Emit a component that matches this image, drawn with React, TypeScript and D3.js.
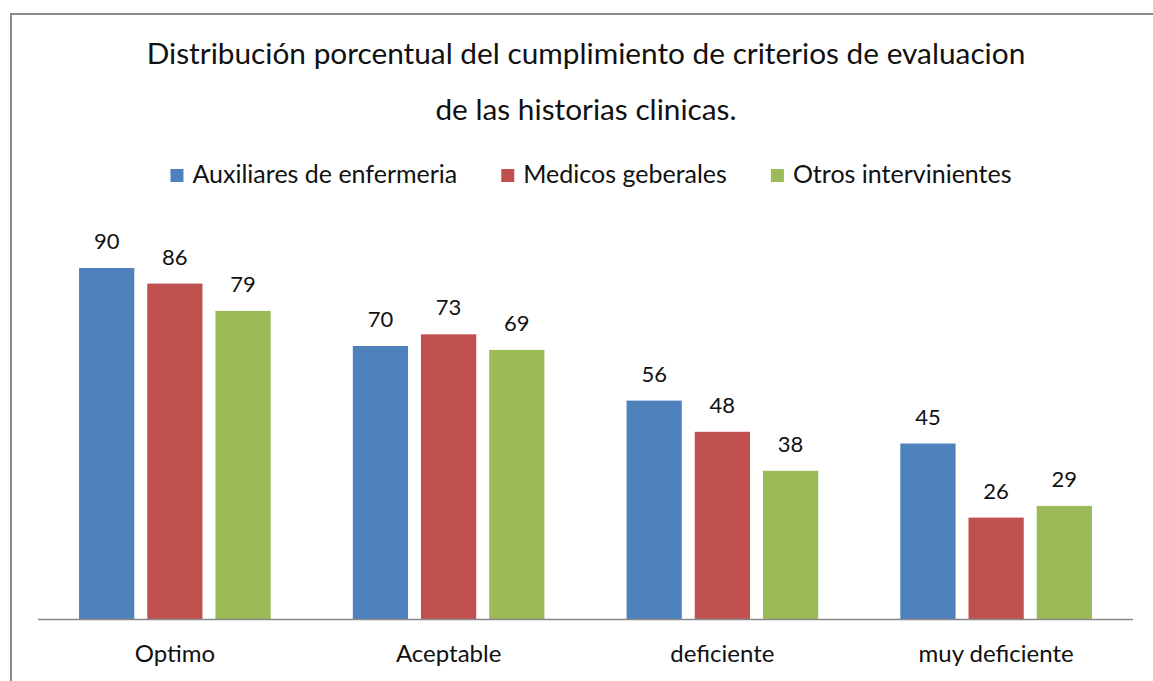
import React, { useEffect, useRef } from "react";
import * as d3 from "d3";

const categories = ["Optimo", "Aceptable", "deficiente", "muy deficiente"];
const seriesNames = ["Auxiliares de enfermeria", "Medicos geberales", "Otros intervinientes"];
const auxiliares = [90, 70, 56, 45];
const medicos = [86, 73, 48, 26];
const otros = [79, 69, 38, 29];
const seriesValues = [auxiliares, medicos, otros];
const colors = ["#4F81BD", "#C0504D", "#9BBB59"];
const titleLines = ["Distribución porcentual del cumplimiento de criterios de evaluacion", "de las historias clinicas."];

const W = 1153;
const H = 681;
const FONT = "Lato, 'Open Sans', sans-serif";

export default function App() {
  const ref = useRef<SVGSVGElement>(null);
  useEffect(() => {
    const svg = d3.select(ref.current!);
    svg.selectAll("*").remove();

    svg.append("rect").attr("width", W).attr("height", H).attr("fill", "#fff");
    svg.append("rect")
      .attr("x", 11).attr("y", 14).attr("width", W + 20).attr("height", H + 20)
      .attr("fill", "none").attr("stroke", "#8a8a8a").attr("stroke-width", 2);

    const left = 38, right = 1133, base = 619, top = 229;
    const x0 = d3.scaleBand<string>().domain(categories).range([left, right]).paddingInner(0.3).paddingOuter(0.15);
    const x1 = d3.scaleBand<number>().domain([0, 1, 2]).range([0, x0.bandwidth()]).paddingInner(0.19);
    const y = d3.scaleLinear().domain([0, 100]).range([base, top]);

    // title
    svg.selectAll("text.title").data(titleLines).enter().append("text")
      .attr("class", "title")
      .attr("x", 586).attr("y", (_d, i) => 64 + i * 56)
      .attr("text-anchor", "middle").attr("font-family", FONT).attr("font-size", 29.8)
      .attr("fill", "#111").text(d => d);

    // legend
    const lg = svg.append("g");
    const items = lg.selectAll("g").data(seriesNames).enter().append("g");
    items.append("rect").attr("width", 13).attr("height", 13).attr("y", -14)
      .attr("fill", (_d, i) => colors[i]);
    items.append("text").attr("x", 22).attr("y", 0).attr("font-family", FONT).attr("font-size", 25)
      .attr("fill", "#111").text(d => d);
    let xpos = 0;
    const widths: number[] = [];
    items.each(function () {
      const t = d3.select(this).select("text").node() as SVGTextElement;
      widths.push(22 + t.getComputedTextLength());
    });
    const gap = 44;
    const total = widths.reduce((a, b) => a + b, 0) + gap * (widths.length - 1);
    const startX = 591 - total / 2;
    items.attr("transform", (_d, i) => {
      const tx = startX + xpos;
      xpos += widths[i] + gap;
      return `translate(${tx},183)`;
    });

    // bars
    const groups = svg.selectAll("g.cat").data(categories).enter().append("g")
      .attr("class", "cat").attr("transform", d => `translate(${x0(d)},0)`);
    groups.selectAll("rect").data((_c, ci) => seriesValues.map((s, si) => ({ si, v: s[ci] })))
      .enter().append("rect")
      .attr("x", d => x1(d.si)!).attr("width", x1.bandwidth())
      .attr("y", d => y(d.v)).attr("height", d => base - y(d.v))
      .attr("fill", d => colors[d.si]);
    groups.selectAll("text").data((_c, ci) => seriesValues.map((s, si) => ({ si, v: s[ci] })))
      .enter().append("text")
      .attr("x", d => x1(d.si)! + x1.bandwidth() / 2).attr("y", d => y(d.v) - 19)
      .attr("text-anchor", "middle").attr("font-family", FONT).attr("font-size", 22)
      .attr("fill", "#111").text(d => d.v);

    // axis
    svg.append("line").attr("x1", left).attr("x2", right).attr("y1", base + 0.5).attr("y2", base + 0.5)
      .attr("stroke", "#888").attr("stroke-width", 1.5);
    svg.selectAll("text.cl").data(categories).enter().append("text")
      .attr("class", "cl")
      .attr("x", d => x0(d)! + x0.bandwidth() / 2).attr("y", 662)
      .attr("text-anchor", "middle").attr("font-family", FONT).attr("font-size", 24)
      .attr("fill", "#111").text(d => d);
  }, []);
  return (
    <svg ref={ref} width={W} height={H} style={{ position: "fixed", left: 0, top: 0, display: "block" }} />
  );
}
